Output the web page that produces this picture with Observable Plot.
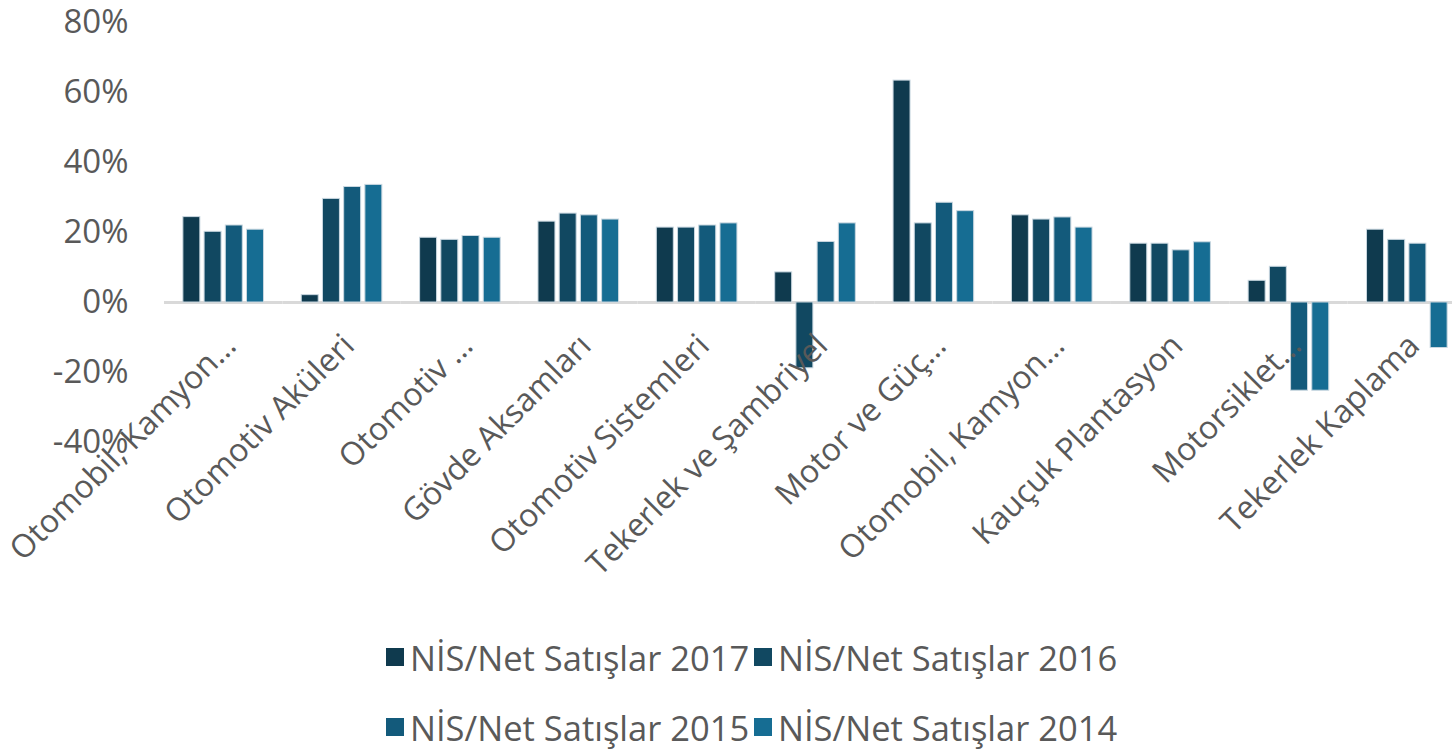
<!DOCTYPE html>
<html><head><meta charset="utf-8">
<script src="https://cdn.jsdelivr.net/npm/d3@7"></script>
<script src="https://cdn.jsdelivr.net/npm/@observablehq/plot@0.6"></script>
<style>
body{margin:0;background:#fff;overflow:hidden;font-family:"Open Sans",sans-serif;}
#chart{position:relative;width:1452px;height:751px;overflow:hidden;}
#legend{position:absolute;left:386px;top:622px;display:grid;grid-template-columns:368px 368px;}
.item{display:flex;align-items:center;height:70px;font-size:34.5px;color:#595959;white-space:nowrap;}
.sw{width:18px;height:18px;margin-right:6px;flex:none;}
</style>
</head><body>
<div id="chart"><div id="legend"></div></div>
<script>
const categories = ["Otomobil, Kamyon…","Otomotiv Aküleri","Otomotiv …","Gövde Aksamları","Otomotiv Sistemleri","Tekerlek ve Şambriyel","Motor ve Güç…","Otomobil, Kamyon…","Kauçuk Plantasyon","Motorsiklet…","Tekerlek Kaplama"];
const seriesNames = ["NİS/Net Satışlar 2017","NİS/Net Satışlar 2016","NİS/Net Satışlar 2015","NİS/Net Satışlar 2014"];
const s2017 = [24.4, 2.1, 18.5, 23.1, 21.4, 8.6, 63.4, 24.9, 16.8, 6.2, 20.8];
const s2016 = [20.2, 29.6, 17.9, 25.4, 21.4, -18.8, 22.6, 23.7, 16.8, 10.2, 17.9];
const s2015 = [22.0, 33.0, 19.0, 24.9, 22.0, 17.3, 28.5, 24.3, 14.9, -25.2, 16.8];
const s2014 = [20.8, 33.6, 18.5, 23.7, 22.6, 22.6, 26.1, 21.4, 17.2, -25.2, -13.0];
const yTicks = [-0.4, -0.2, 0, 0.2, 0.4, 0.6, 0.8];
const colors = ["#0f3a4e", "#114861", "#135a7b", "#166d93"];

const seriesValues = [s2017, s2016, s2015, s2014];
const data = [];
categories.forEach((c, i) => seriesNames.forEach((s, j) => data.push({cat: i, series: s, value: seriesValues[j][i] / 100})));
const labels = categories.map((c, i) => ({cat: i, label: c}));

const chart = Plot.plot({
  width: 1452, height: 620,
  marginLeft: 164, marginRight: -14, marginTop: 22, marginBottom: 178,
  style: {fontFamily: "'Open Sans', sans-serif", background: "#fff", overflow: "visible"},
  fx: {domain: d3.range(categories.length), paddingInner: 0, paddingOuter: 0, axis: null, label: null, round: false},
  x: {domain: seriesNames, paddingInner: 0.2, paddingOuter: 0.89, axis: null, round: false},
  y: {domain: [-0.4, 0.8], axis: null},
  color: {domain: seriesNames, range: colors},
  marks: [
    Plot.ruleY([0], {stroke: "#d9d9d9", strokeWidth: 3}),
    Plot.barY(data, {fx: "cat", x: "series", y: "value", fill: "series", stroke: "#c9d7e0", strokeWidth: 1}),
    Plot.axisY({ticks: yTicks, tickFormat: d => Math.round(d * 100) + "%", tickSize: 0, tickPadding: 36, fontSize: 33, fill: "#595959", label: null}),
    Plot.text(labels, {fx: "cat", y: 0, text: "label", rotate: -45, textAnchor: "end", lineAnchor: "top", dx: -2, dy: 29, fontSize: 32, fill: "#595959"})
  ]
});
document.getElementById("chart").prepend(chart);

const legend = document.getElementById("legend");
seriesNames.forEach((s, j) => {
  const it = document.createElement("div");
  it.className = "item";
  it.innerHTML = `<span class="sw" style="background:${colors[j]}"></span><span>${s}</span>`;
  legend.appendChild(it);
});
</script>
</body></html>
